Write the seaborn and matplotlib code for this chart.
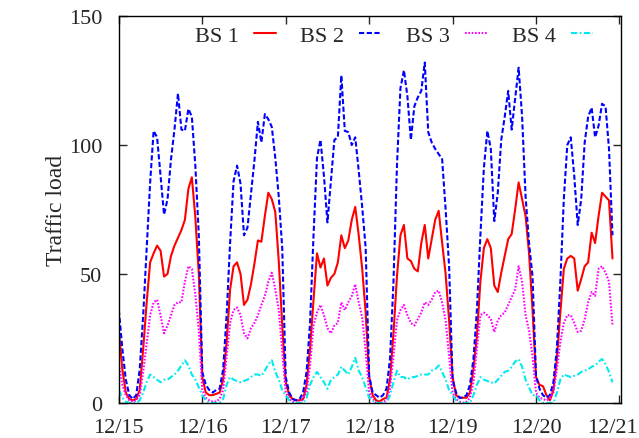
import numpy as np
import pandas as pd
import seaborn as sns
import matplotlib
matplotlib.use("Agg")
import matplotlib.pyplot as plt
from matplotlib.transforms import ScaledTranslation

# hourly traffic load per base station, 12/15 00:00 onwards
bs1 = [28, 13, 4, 1.5, 1, 1.5, 5, 21, 39, 54.5, 58, 61, 59, 49, 50, 57, 61, 64, 67, 71, 83, 87.5, 72, 50,
       10, 4, 3, 3, 3.5, 4, 9, 23.5, 44, 53, 54.5, 50, 38, 40, 46, 54, 63, 62.5, 72.5, 81.5, 79, 74, 55, 30,
       8, 3, 1.5, 1, 1, 1.5, 7, 21, 40, 58, 52.5, 56, 45.5, 48.5, 50, 54.5, 65, 60, 63, 71, 76, 65, 52, 35,
       10, 3, 1, 0.5, 1.5, 2, 9, 27, 49, 65, 69, 56, 55, 52, 51, 62, 69, 56, 63.5, 71, 74.5, 62, 50, 32,
       10, 3, 2, 2, 2, 4, 13, 26, 47, 60, 63.5, 60, 45.5, 43, 50.5, 57, 63.5, 65.5, 75, 85.5, 79, 72.5, 58, 36,
       10, 7, 6.5, 3, 1, 5, 17, 35, 52, 56, 57, 56, 43.5, 48, 53, 54.5, 66, 62, 72.5, 81.5, 80, 78.5, 56]
bs2 = [36, 21, 9, 3, 1.5, 3, 13, 34, 60, 85.5, 105.5, 103, 88, 73, 79, 94.5, 106, 120, 106, 105.5, 114, 111, 92, 65,
       12, 7, 5, 4, 5, 5.5, 13, 34, 62, 86, 92, 85, 65, 68, 81, 94, 109, 101, 112, 110, 107, 95, 80, 60,
       10, 4, 1.5, 1, 1.5, 4, 12, 31, 65, 95, 102, 88, 70, 86, 102, 103, 127, 105.5, 105, 100, 103, 90, 76, 60,
       10.5, 4, 3, 2, 3, 5.5, 17, 47, 92, 122, 129, 119, 102, 115, 118.5, 121, 132, 105, 101, 98.5, 96.5, 94.5, 75, 53,
       9, 4, 2, 2, 3, 7, 17, 36, 65, 91, 105.5, 98.5, 70.5, 81.5, 102, 111, 121, 106, 118, 130, 111, 80, 62, 49,
       10.5, 5.5, 3, 2, 3, 8, 21, 47, 79, 100, 103, 88, 69, 79, 101, 111, 114.5, 103, 107.5, 116, 115, 98.5, 65]
bs3 = [15, 7, 3, 1, 0.5, 1, 3, 12, 23, 34, 39, 40, 34, 27, 30, 34, 38, 39, 39, 47, 53, 52, 42, 28,
       5, 2, 1, 0.5, 0.5, 1.5, 5, 18, 31, 36, 37, 34, 27, 25, 29, 31, 34, 38, 41.5, 47, 50.5, 44, 36, 20,
       4, 1.5, 0.5, 0, 0, 1.5, 4, 14.5, 30, 35, 38, 34, 29, 27, 30, 31, 39, 36, 39, 41.5, 46, 39, 33, 20,
       4, 1.5, 0, 0, 0, 1.5, 5.5, 18, 32, 36, 38, 34, 31, 30, 32.5, 35, 39, 38, 40, 43, 43.5, 39, 32, 18,
       4, 1.5, 0.5, 0, 0.5, 2, 8, 21, 34, 35, 34, 32.5, 27.5, 32, 34, 35, 38, 41, 44, 53, 47, 34, 28, 18,
       4, 2, 1.5, 1, 1.5, 4, 13, 23.5, 31, 34, 34, 31, 27.5, 28, 32.5, 39, 43, 41.5, 52, 53, 50.5, 47, 30]
bs4 = [5, 2, 0.5, 0, 0, 0, 1, 4, 8, 11, 10, 9, 8, 9, 9, 10, 11, 12.5, 14.5, 16.5, 14.5, 11, 9, 6,
       3, 1, 0, 0, 0, 0, 1.5, 7, 10, 9, 8.5, 8, 8.5, 9, 10, 11, 11, 10.5, 12.5, 15, 16.5, 12, 9, 5,
       3, 1, 0, 0, 0, 0, 2, 7, 10, 12, 10, 8, 5.5, 9, 10, 11, 14, 12.5, 11, 14, 17.5, 12.5, 10, 6,
       2, 1, 0, 0, 0, 0, 3, 8, 12.5, 10, 10, 9, 10, 10, 10.5, 11, 11, 11, 12.5, 13, 14.5, 12, 9, 5,
       3, 1, 0, 0, 0, 0, 3, 7, 10, 9, 8.5, 8, 7.5, 9, 10.5, 12, 12.5, 14, 16, 17, 14, 9, 6, 3,
       3, 1, 0, 0, 0, 0, 4, 9, 11, 10.5, 10, 10.5, 11, 12, 12.5, 13, 14, 14.5, 16, 17, 15, 12, 8]

stations = ["BS 1", "BS 2", "BS 3", "BS 4"]
day_labels = ["12/15", "12/16", "12/17", "12/18", "12/19", "12/20", "12/21"]

df = pd.DataFrame({"day": np.arange(len(bs1)) / 24,
                   "BS 1": bs1, "BS 2": bs2, "BS 3": bs3, "BS 4": bs4})
long = df.melt(id_vars="day", var_name="station", value_name="load")

sns.set_style("ticks")
plt.rcParams["font.family"] = ["Liberation Serif", "DejaVu Serif"]

fig = plt.figure(figsize=(6.39, 4.39), dpi=100)
ax = fig.add_axes([0.186, 0.080, 0.786, 0.881])

palette = {"BS 1": "#ff0000", "BS 2": "#0000ff", "BS 3": "#ff00ff", "BS 4": "#00eaf0"}
dashes = {"BS 1": "", "BS 2": (2.5, 1.2), "BS 3": (0.8, 0.8), "BS 4": (3, 1.2, 0.8, 1.2)}
sns.lineplot(data=long, x="day", y="load", hue="station", style="station",
             palette=palette, dashes=dashes, linewidth=1.5, ax=ax)

ax.set_xlim(0, 6.02)
ax.set_ylim(0, 150)
ax.set_xticks(range(len(day_labels)))
ax.set_xticklabels(day_labels)
ax.set_yticks([0, 50, 100, 150])
ax.set_xlabel("")
ax.set_ylabel("Traffic load", fontsize=17, labelpad=1)
ax.tick_params(direction="in", length=6, width=1, labelsize=16, top=True, right=True)
ax.tick_params(axis="x", pad=11)
ax.tick_params(axis="y", pad=12)
for s in ax.spines.values():
    s.set_linewidth(1)
    s.set_color("black")

# keep the last date label inside the canvas
last = ax.get_xticklabels()[-1]
last.set_transform(last.get_transform() + ScaledTranslation(-5 / 72, 0, fig.dpi_scale_trans))

handles, labels = ax.get_legend_handles_labels()
ax.legend(handles, labels, ncol=4, loc="upper right", bbox_to_anchor=(0.962, 1.0),
          frameon=False, markerfirst=False, fontsize=16, handlelength=1.0,
          columnspacing=1.1, handletextpad=0.68, borderaxespad=0)

fig.savefig("out.png", dpi=100)
